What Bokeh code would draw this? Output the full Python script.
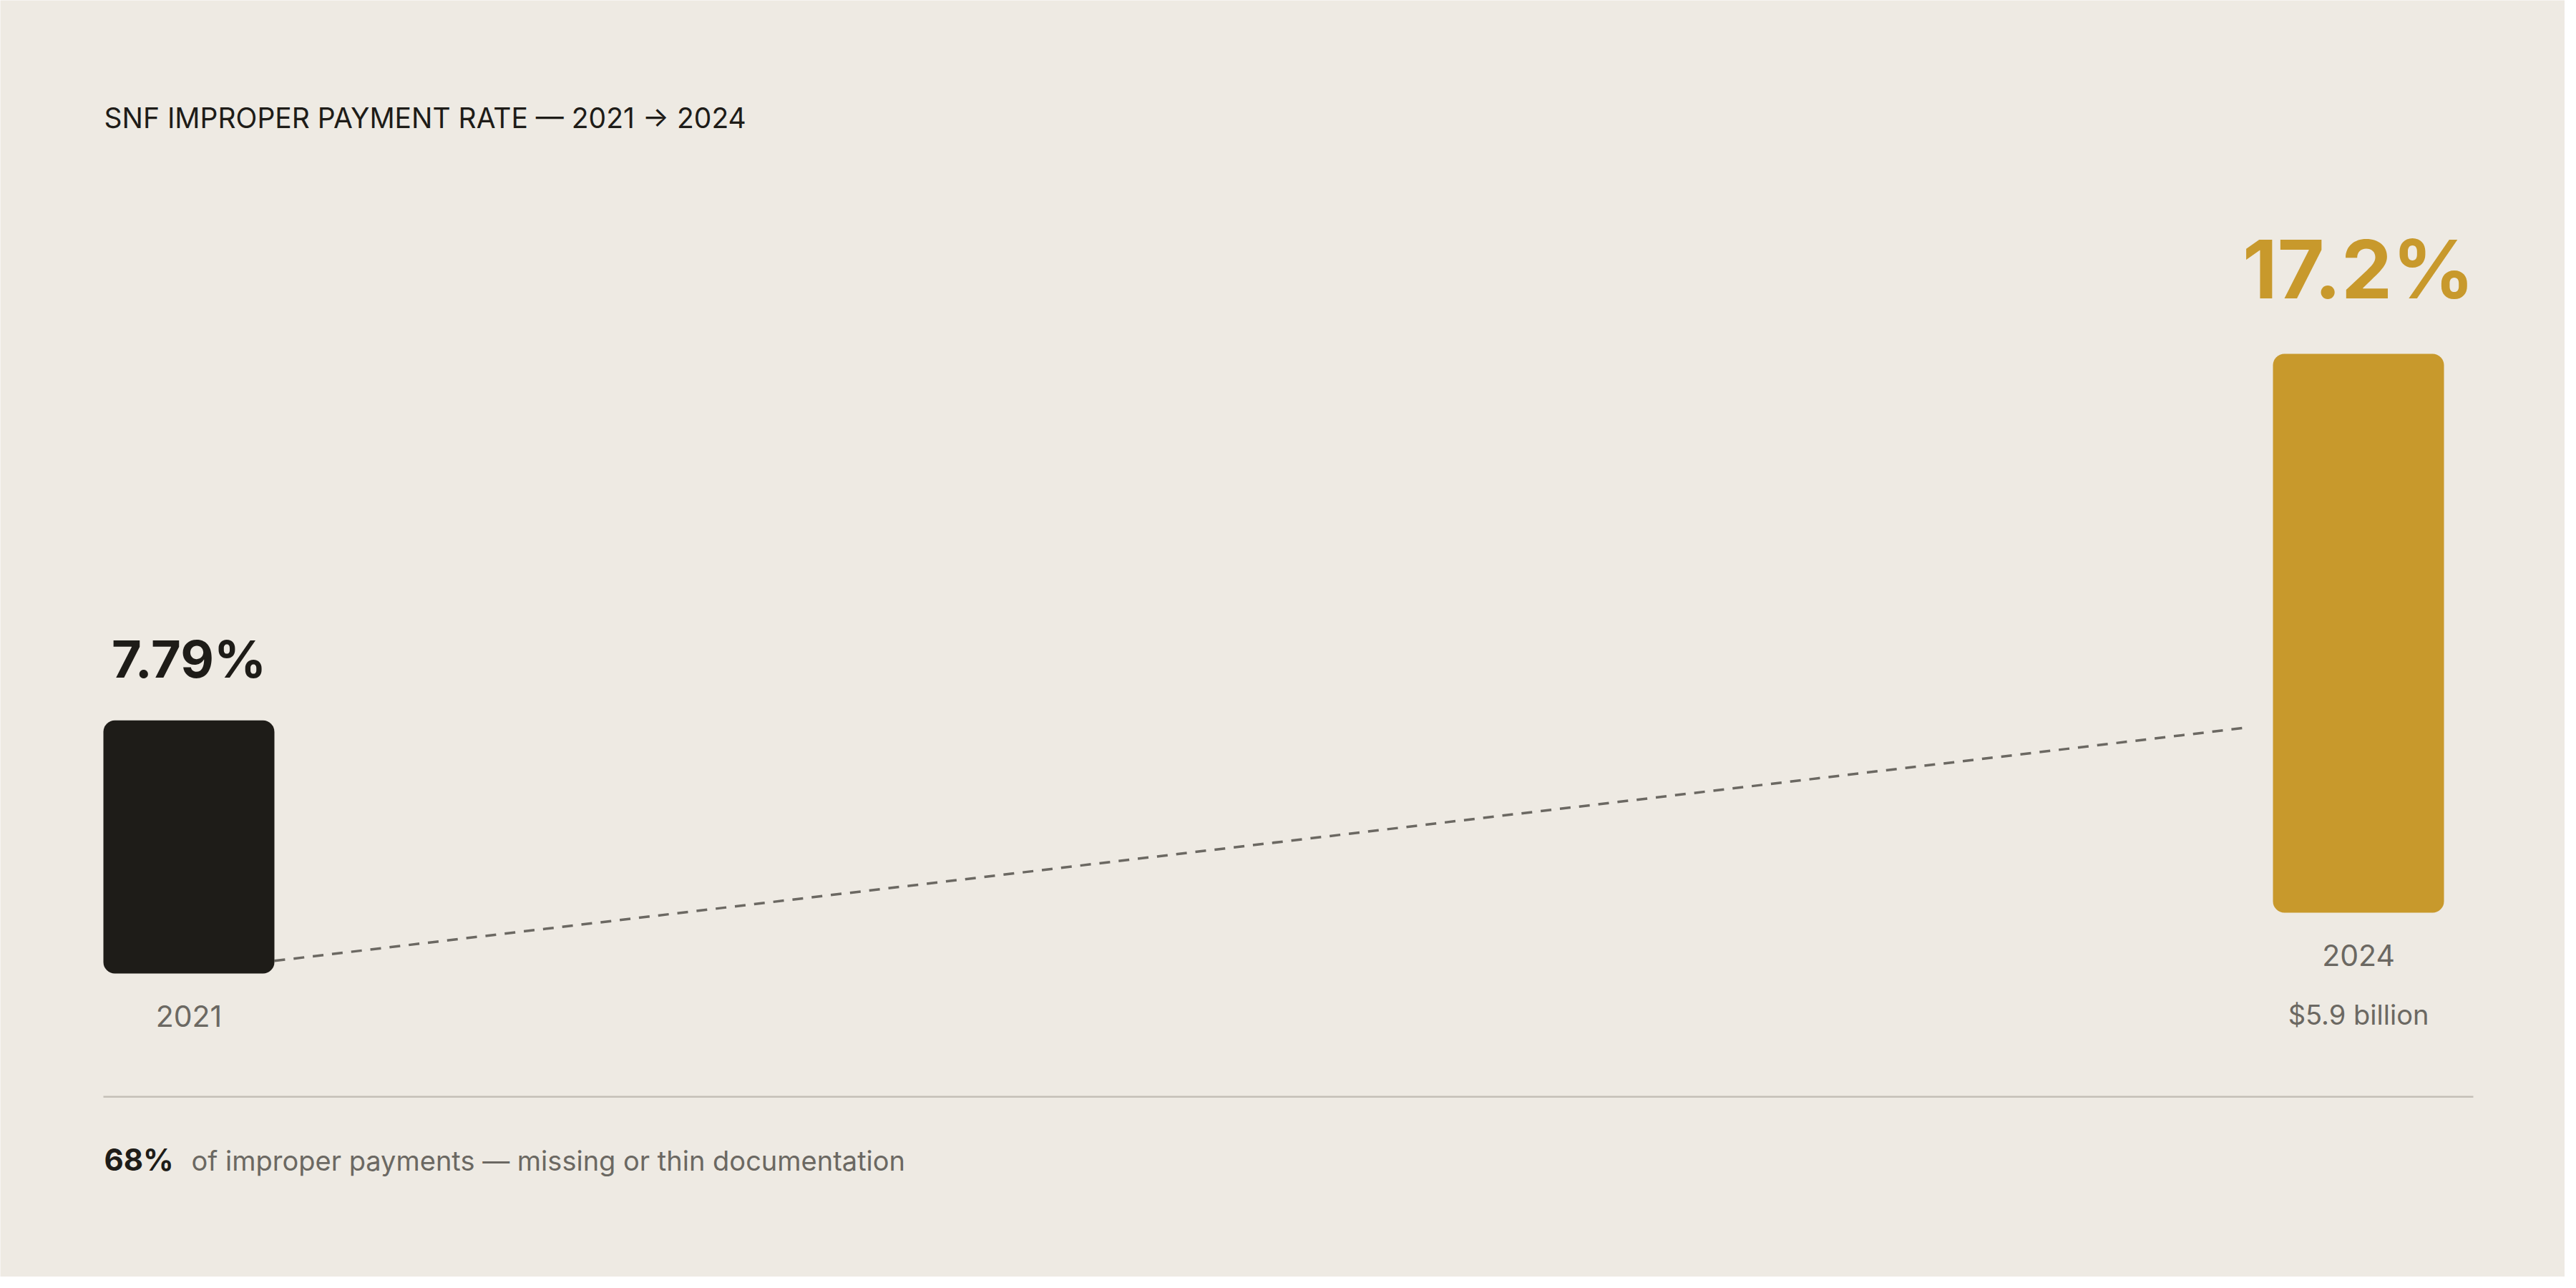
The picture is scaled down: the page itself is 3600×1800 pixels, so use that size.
from bokeh.plotting import figure
from bokeh.models import Range1d, Label, BoxAnnotation
from bokeh.core.properties import value
from bokeh.embed import file_html
from bokeh.resources import INLINE

# data
years = [2021, 2024]
rates = [7.79, 17.2]
rate_labels = ["7.79%", "17.2%"]
year_labels = ["2021", "2024"]
amount_labels = ["", "$5.9 billion"]
title_text = "SNF IMPROPER PAYMENT RATE — 2021 → 2024"
note_value = "68%"
note_text = "of improper payments — missing or thin documentation"

# style
BG = "#EEEAE3"
INK = "#1E1C18"
GOLD = "#C8992C"
MUTED = "#6B6862"
RULE = "#C4BFB7"
FONT = "Inter"
bar_colors = [INK, GOLD]
value_sizes = [72, 113]
value_gaps = [58, 73]
DROP = 0.4  # rendered baseline sits ~0.4em below the requested one


def lift(size):
    return DROP * size


# layout (pixels)
W, H = 3584, 1784
px_per_year = 1010.67
px_per_pct = 45.4
first_center = 263.5
bases = [424, 509]  # baseline of each column, px from bottom
bar_w = 239 / px_per_year

x0 = years[0] - first_center / px_per_year
p = figure(width=W, height=H, output_backend="svg", toolbar_location=None,
           x_range=Range1d(x0, x0 + W / px_per_year),
           y_range=Range1d(-bases[0] / px_per_pct, (H - bases[0]) / px_per_pct),
           x_axis_location=None, y_axis_location=None, min_border=0)
p.extra_y_ranges = {"late": Range1d(-bases[1] / px_per_pct, (H - bases[1]) / px_per_pct)}
p.background_fill_color = BG
p.border_fill_color = BG
p.outline_line_color = None
p.grid.visible = False

# dashed connector between the two columns
p.line(x=[years[0] + bar_w / 2, years[1] - bar_w / 2 - 42 / px_per_year],
       y=[0.05 * rates[0], 0.97 * rates[0]],
       line_color=MUTED, line_width=3.5, line_dash="15 12")

range_names = ["default", "late"]
for i in range(len(years)):
    rn = range_names[i]
    p.vbar(x=[years[i]], top=[rates[i]], bottom=0, width=bar_w,
           fill_color=bar_colors[i], line_color=None, border_radius=16,
           y_range_name=rn)
    p.text(x=[years[i]], y=[rates[i]], text=[rate_labels[i]],
           text_align="center", text_baseline="alphabetic",
           y_offset=-value_gaps[i] - lift(value_sizes[i]), text_font=value(FONT),
           text_font_size=f"{value_sizes[i]}px", text_font_style="bold",
           text_color=bar_colors[i], y_range_name=rn)
    p.text(x=[years[i]], y=[0], text=[year_labels[i]],
           text_align="center", text_baseline="alphabetic", y_offset=76 - lift(41),
           text_font=value(FONT), text_font_size="41px", text_color=MUTED,
           y_range_name=rn)
    if amount_labels[i]:
        p.text(x=[years[i]], y=[0], text=[amount_labels[i]],
               text_align="center", text_baseline="alphabetic", y_offset=158 - lift(38),
               text_font=value(FONT), text_font_size="38px", text_color=MUTED,
               y_range_name=rn)

p.add_layout(Label(x=145, y=H - 180 + lift(39), x_units="screen", y_units="screen",
                   text=title_text, text_font=FONT, text_font_size="39px",
                   text_color=INK, text_baseline="alphabetic"))

p.add_layout(BoxAnnotation(left=144, right=3456, bottom=H - 1533.5, top=H - 1531,
                           left_units="screen", right_units="screen",
                           bottom_units="screen", top_units="screen",
                           fill_color=RULE, fill_alpha=1, line_color=None))

p.add_layout(Label(x=145, y=H - 1637 + lift(42), x_units="screen", y_units="screen",
                   text=note_value, text_font=FONT, text_font_size="42px",
                   text_font_style="bold", text_color=INK, text_baseline="alphabetic"))
p.add_layout(Label(x=267, y=H - 1637 + lift(38), x_units="screen", y_units="screen",
                   text=note_text, text_font=FONT, text_font_size="38px",
                   text_color=MUTED, text_baseline="alphabetic"))

open("out.html", "w").write(file_html(p, INLINE))
